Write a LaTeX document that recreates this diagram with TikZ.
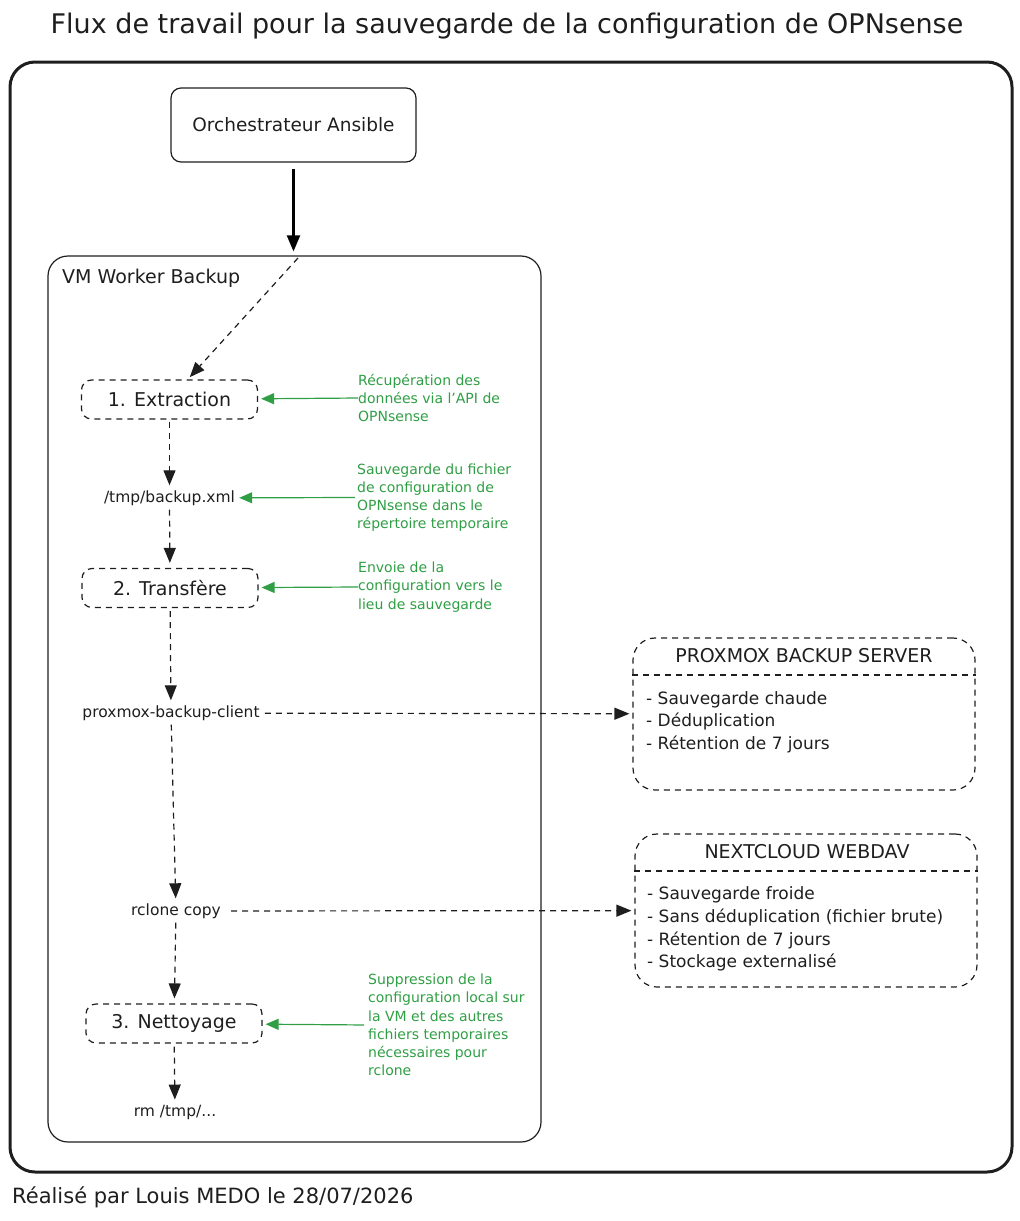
\documentclass[tikz,border=0pt]{standalone}
\usepackage{fontspec}
\setmainfont{DejaVu Sans}
\usetikzlibrary{arrows.meta}
\definecolor{ink}{HTML}{1E1E1E}
\definecolor{note}{HTML}{2F9E44}
\begin{document}
\begin{tikzpicture}[x=1pt,y=-1pt,
  every node/.style={text=ink,inner sep=2pt},
  container/.style={draw=ink,line width=1.2pt,rounded corners=20pt,inner sep=0pt},
  solidbox/.style={draw=ink,line width=1.2pt,rounded corners=10pt,inner sep=0pt,font=\fontsize{18.5}{22}\selectfont},
  dashbox/.style={draw=ink,line width=1.2pt,dash pattern=on 6pt off 5pt,rounded corners=10pt,inner sep=0pt},
  stepbox/.style={dashbox,minimum width=176pt,minimum height=39pt,font=\fontsize{19}{22}\selectfont},
  destbox/.style={dashbox,rounded corners=22pt,minimum width=342pt},
  cmd/.style={font=\fontsize{15.5}{18}\selectfont},
  notetext/.style={text=note,align=left,inner sep=0pt,anchor=west,font=\fontsize{14}{18.2}\selectfont},
  items/.style={align=left,inner sep=0pt,anchor=west,font=\fontsize{17}{22.6}\selectfont},
  desttitle/.style={font=\fontsize{19}{22}\selectfont},
  flow/.style={draw=ink,line width=1.2pt,dash pattern=on 6pt off 5pt,-{Triangle[length=15pt,width=12pt]}},
  notearrow/.style={draw=note,line width=1.2pt,-{Triangle[length=13pt,width=11pt]}},
  sep/.style={draw=ink,line width=1.2pt,dash pattern=on 6pt off 5pt}
]
\useasboundingbox (0,0) rectangle (1020,1221);

% title and footer
\node[font=\fontsize{27}{30}\selectfont] (title) at (507,26) {Flux de travail pour la sauvegarde de la configuration de OPNsense};
\node[anchor=west,inner sep=0pt,font=\fontsize{21}{24}\selectfont] (footer) at (12,1197) {Réalisé par Louis MEDO le 28/07/2026};

% outer frame
\node[draw=ink,line width=3pt,rounded corners=25pt,minimum width=1002pt,minimum height=1110pt,inner sep=0pt] (outer) at (511,617) {};

% orchestrator
\node[solidbox,minimum width=245pt,minimum height=74pt] (ans) at (293.5,125) {Orchestrateur Ansible};

% VM worker container
\node[container,minimum width=493pt,minimum height=886pt] (vm) at (294.5,699) {};
\node[anchor=west,inner sep=0pt,font=\fontsize{19}{22}\selectfont] (vmlabel) at (62,278) {VM Worker Backup};

\draw[line width=2.2pt,-{Triangle[length=16pt,width=13pt]},shorten <=6pt,shorten >=4pt] (ans.south) -- (ans.south |- vm.north);

% steps
\node[stepbox] (ext) at (169.5,399.5) {1. Extraction};
\node[cmd] (xml) at (169.5,498) {/tmp/backup.xml};
\node[stepbox] (tr) at (170,588) {2. Transfère};
\node[cmd] (pbc) at (171,713) {proxmox-backup-client};
\node[cmd] (rcl) at (176,911) {rclone copy};
\node[stepbox] (net) at (174,1023.5) {3. Nettoyage};
\node[cmd] (rm) at (175,1112) {rm /tmp/...};

% notes
\node[notetext] (n1) at (358,398) {Récupération des\\données via l'API de\\OPNsense};
\node[notetext] (n2) at (357,497.5) {Sauvegarde du fichier\\de configuration de\\OPNsense dans le\\répertoire temporaire};
\node[notetext] (n3) at (358,587) {Envoie de la\\configuration vers le\\lieu de sauvegarde};
\node[notetext] (n4) at (368,1025) {Suppression de la\\configuration local sur\\la VM et des autres\\fichiers temporaires\\nécessaires pour\\rclone};

% destinations
\node[destbox,minimum height=152pt] (pbs) at (804,714) {};
\draw[sep] (pbs.west |- 0,675) -- (pbs.east |- 0,675);
\node[desttitle] (pbst) at (804,656) {PROXMOX BACKUP SERVER};
\node[items] (pbsi) at (646,722) {- Sauvegarde chaude\\- Déduplication\\- Rétention de 7 jours};

\node[destbox,minimum height=153pt] (nc) at (806,910.5) {};
\draw[sep] (nc.west |- 0,871) -- (nc.east |- 0,871);
\node[desttitle] (nct) at (807,852) {NEXTCLOUD WEBDAV};
\node[items] (nci) at (647,929) {- Sauvegarde froide\\- Sans déduplication (fichier brute)\\- Rétention de 7 jours\\- Stockage externalisé};

% flow connectors
\coordinate (vmin) at (298,258);
\draw[flow,shorten >=3pt] (vmin) -- (ext);
\draw[flow,shorten <=2pt,shorten >=3pt] (ext) -- (xml);
\draw[flow,shorten <=2pt,shorten >=5pt] (xml) -- (tr);
\draw[flow,shorten <=3pt,shorten >=3pt] (tr) -- (pbc);
\draw[flow,shorten <=3pt,shorten >=3pt] (pbc) -- (pbs);
\draw[flow,shorten <=2pt,shorten >=3pt] (pbc) -- (rcl);
\draw[flow,shorten <=8pt,shorten >=3pt] (rcl) -- (nc);
\draw[flow,shorten <=2pt,shorten >=5pt] (rcl) -- (net);
\draw[flow,shorten <=3pt,shorten >=3pt] (net) -- (rm);

% note arrows
\draw[notearrow,shorten >=3pt] (n1.west) -- (ext);
\draw[notearrow,shorten <=2pt,shorten >=2pt] (n2.west) -- (xml);
\draw[notearrow,shorten >=3pt] (n3.west) -- (tr);
\draw[notearrow,shorten <=4pt,shorten >=3pt] (n4.west) -- (net);
\end{tikzpicture}
\end{document}
